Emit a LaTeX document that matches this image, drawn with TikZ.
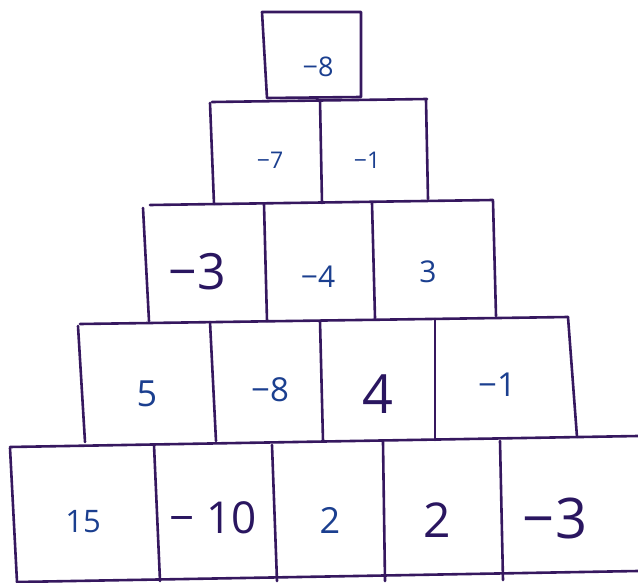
\documentclass[tikz,border=0pt]{standalone}
\usepackage{fontspec}
\setmainfont{Open Sans}
\definecolor{inkline}{HTML}{36185F}
\definecolor{inkblue}{HTML}{1B3F8F}
\definecolor{inkdark}{HTML}{2A1660}
\tikzset{
  cell/.style={draw=inkline, line width=2.6pt, line join=round, line cap=round},
  num/.style={inner sep=0pt, text=inkblue},
  dnum/.style={inner sep=0pt, text=inkdark},
}
\newcommand{\fs}[1]{\fontsize{#1}{#1}\selectfont}
\begin{document}
\begin{tikzpicture}[x=1pt,y=-1pt]
\useasboundingbox (0,0) rectangle (638,583);
% top box
\draw[cell] (262,12) -- (361,12) -- (361,97) -- (267,98) -- cycle;
% row 2
\draw[cell] (212,102) -- (427,99);
\draw[cell] (210,103) -- (214,204);
\draw[cell] (320,100) -- (322,203);
\draw[cell] (426,100) -- (428,199);
% row 2 bottom / row 3 top
\draw[cell] (150,205) -- (493,200);
% row 3 verticals
\draw[cell] (143,208) -- (149,321);
\draw[cell] (264,204) -- (267,321);
\draw[cell] (372,203) -- (375,318);
\draw[cell] (493,201) -- (496,316);
% row 3 bottom / row 4 top
\draw[cell] (80,324) -- (568,317);
% row 4 verticals
\draw[cell] (78,326) -- (85,442);
\draw[cell] (210,322) -- (216,441);
\draw[cell] (320,321) -- (323,441);
\draw[cell] (435,319) -- (435,440);
\draw[cell] (568,317) -- (577,437);
% row 4 bottom / row 5 top
\draw[cell] (10,447) -- (638,436);
% row 5 verticals
\draw[cell] (10,448) -- (17,582);
\draw[cell] (154,445) -- (160,581);
\draw[cell] (272,445) -- (277,581);
\draw[cell] (383,442) -- (385,581);
\draw[cell] (500,441) -- (503,580);
% row 5 bottom
\draw[cell] (17,582) -- (638,571);
% numbers
\node[num] (a1) at (318,67) {\fs{27}−8};
\node[num] (b1) at (270,160) {\fs{23}−7};
\node[num] (b2) at (367,160) {\fs{23}−1};
\node[dnum] (c1) at (197,272) {\fs{50}−3};
\node[num] (c2) at (318,277) {\fs{30}−4};
\node[num] (c3) at (428,272) {\fs{30}3};
\node[num] (d1) at (147,394) {\fs{36}5};
\node[num] (d2) at (270,390) {\fs{33}−8};
\node[dnum] (d3) at (378,394) {\fs{54}4};
\node[num] (d4) at (497,385) {\fs{33}−1};
\node[num] (e1) at (83,522) {\fs{31}15};
\node[dnum] (e2) at (213,518) {\fs{44}− 10};
\node[num] (e3) at (330,520) {\fs{36}2};
\node[dnum] (e4) at (437,520) {\fs{48}2};
\node[dnum] (e5) at (555,518) {\fs{56}−3};
\end{tikzpicture}
\end{document}
